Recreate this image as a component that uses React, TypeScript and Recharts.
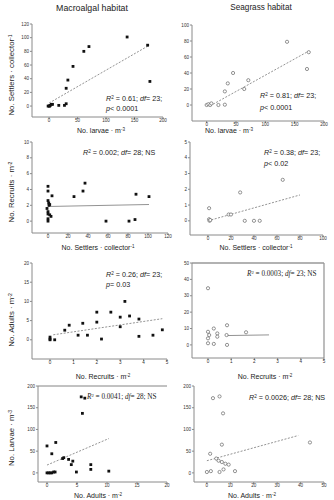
import React from 'react';
import { ScatterChart, Scatter, XAxis, YAxis, ReferenceLine } from 'recharts';

// ---- Data ----
// Panel 1: macroalgal, larvae vs settlers
const p1Larvae = [-1.7, 0, 1, 2, 4, 6, 17, 27, 30, 30, 33, 42, 61, 70, 137, 173, 177];
const p1Settlers = [0, 0, 0, 1, 2.5, 2.5, 1, 1, 3.4, 26, 38, 58, 80, 87, 101, 89, 36];
const p1Fit = [[0, 4.4], [176, 89]];
// Panel 2: seagrass, larvae vs settlers
const p2Larvae = [0, 3, 6, 8, 20, 31, 31, 36, 45, 64, 71, 137, 174, 171];
const p2Settlers = [0, 1, 0, 2, 0, 0.4, 17, 27, 40, 20, 31, 79, 66, 45];
const p2Fit = [[11, 1], [173, 67]];
// Panel 3: macroalgal, settlers vs recruits
const p3Settlers = [0, 0, 0, 0.7, 1, 1.7, -1, 0, 0, 0, 0, 1.7, 3, 4, 26, 35, 37, 58, 81, 87, 88, 101];
const p3Recruits = [4.4, 3.8, 2.6, 2.3, 2.0, 2.1, 1.6, 1.2, 0.9, 0.3, 0, 0.8, 0.6, 3.2, 3.1, 3.8, 4.8, 0, 0, 0.2, 3.4, 3.1];
const p3Fit = [[0, 1.85], [101, 2.1]];
// Panel 4: seagrass, settlers vs recruits
const p4Settlers = [1, 1, 1.4, 2, 18, 20, 28, 32, 40, 45, 65];
const p4Recruits = [0.8, 0.1, 0, 0.05, 0.4, 0.4, 1.8, 0, 0, 0, 2.6];
const p4Fit = [[0, 0], [80, 1.64]];
// Panel 5: macroalgal, recruits vs adults
const p5Recruits = [0, 0, 0, 0.2, 0.63, 0.82, 1.2, 1.4, 1.6, 2.0, 2.0, 2.2, 2.6, 3.0, 3.0, 3.2, 3.4, 3.8, 3.8, 4.4, 4.8];
const p5Adults = [0.2, 0, 0.7, 0, 2.5, 3.8, 1.2, 4.3, 1.2, 7.2, 4.6, 0.2, 7.2, 5.9, 3.4, 10.0, 6.2, 5.4, 0.9, 1.2, 2.6];
const p5Fit = [[0.14, 1.3], [4.8, 5.5]];
// Panel 6: seagrass, recruits vs adults
const p6Recruits = [0, 0, 0, 0, 0.05, 0.25, 0.4, 0.4, 0.25, 0.82, 0.8, 0.82, 1.64];
const p6Adults = [34.6, 8, 4, 1, 6, 10, 7, 5, 0.6, 12, 6, 0, 7.7];
const p6Fit = [[0.82, 5.7], [2.63, 6.1]];
// Panel 7: macroalgal, adults vs larvae
const p7Adults = [0, 0, 0.27, 0.54, 0.8, 1.1, 1.35, 0.8, 1.46, 2.6, 2.8, 3.6, 4.05, 4.3, 4.9, 5.7, 6.3, 5.9, 7.3, 7.3, 10.3];
const p7Larvae = [62, 0, 0, 0, 0, 2, 2, 44, 70, 33, 35, 31, 19, 27, 2, 175, 172, 137, 19, 8, 4];
const p7Fit = [[0, 18], [10.3, 79]];
// Panel 8: seagrass, adults vs larvae
const p8Adults = [2.6, 5.4, 6.9, 6.4, 1.4, 4, 5, 6.4, 7.9, 9.3, 7.1, 5.4, 1.7, 0, 12, 44];
const p8Larvae = [172, 176, 137, 65, 44, 33, 28, 25, 21, 19, 8, 2, 4, 2, 4, 70];
const p8Fit = [[0, 28], [39, 86]];

// Tick labels
const larvaeTicks = [0, 50, 100, 150, 200];
const settlersTicksMacro = [0, 20, 40, 60, 80, 100, 120];
const settlersTicksSea = [0, 20, 40, 60, 80, 100];
const settlersXTicksMacro = [0, 20, 40, 60, 80, 100, 120];
const settlersXTicksSea = [0, 20, 40, 60, 80, 100];
const recruitsTicksMacro = [0, 2, 4, 6, 8, 10];
const recruitsTicksSea = [0, 1, 2, 3, 4, 5];
const recruitsXTicks = [0, 1, 2, 3, 4, 5];
const adultsTicksMacro = [0, 5, 10, 15, 20];
const adultsTicksSea = [0, 10, 20, 30, 40, 50];
const adultsXTicksMacro = [0, 5, 10, 15, 20];
const adultsXTicksSea = [0, 10, 20, 30, 40, 50];
const larvaeYTicks = [0, 50, 100, 150, 200];

const SANS = "'Liberation Sans', Arial, sans-serif";
const SERIF = "'Liberation Serif', 'Times New Roman', serif";

const zip = (xs: number[], ys: number[]) => xs.map((x, i) => ({ x, y: ys[i] }));

type Panel = {
  id: string;
  data: { x: number; y: number }[];
  filled: boolean;
  fit: number[][];
  dashed: boolean;
  xDomain: [number, number];
  yDomain: [number, number];
  xTicks: number[];
  yTicks: number[];
  rect: { l: number; t: number; r: number; b: number };
  box?: boolean;
  topLine?: boolean;
};

const panels: Panel[] = [
  { id: 'p1', data: zip(p1Larvae, p1Settlers), filled: true, fit: p1Fit, dashed: true,
    xDomain: [-30, 200], yDomain: [-16, 120], xTicks: larvaeTicks, yTicks: settlersTicksMacro,
    rect: { l: 32, t: 24, r: 163, b: 117 } },
  { id: 'p2', data: zip(p2Larvae, p2Settlers), filled: false, fit: p2Fit, dashed: true,
    xDomain: [-25, 200], yDomain: [-20, 100], xTicks: larvaeTicks, yTicks: settlersTicksSea,
    rect: { l: 192, t: 25, r: 324, b: 121 } },
  { id: 'p3', data: zip(p3Settlers, p3Recruits), filled: true, fit: p3Fit, dashed: false,
    xDomain: [-16, 120], yDomain: [-1.5, 10], xTicks: settlersXTicksMacro, yTicks: recruitsTicksMacro,
    rect: { l: 32, t: 142, r: 168, b: 233 } },
  { id: 'p4', data: zip(p4Settlers, p4Recruits), filled: false, fit: p4Fit, dashed: true,
    xDomain: [-15.6, 100], yDomain: [-0.9, 5], xTicks: settlersXTicksSea, yTicks: recruitsTicksSea,
    rect: { l: 190, t: 142, r: 323, b: 235 } },
  { id: 'p5', data: zip(p5Recruits, p5Adults), filled: true, fit: p5Fit, dashed: true,
    xDomain: [-0.77, 5], yDomain: [-5, 20], xTicks: recruitsXTicks, yTicks: adultsTicksMacro,
    rect: { l: 32, t: 263, r: 167, b: 359 } },
  { id: 'p6', data: zip(p6Recruits, p6Adults), filled: false, fit: p6Fit, dashed: false,
    xDomain: [-0.69, 5], yDomain: [-8, 50], xTicks: recruitsXTicks, yTicks: adultsTicksSea,
    rect: { l: 192, t: 263, r: 324, b: 358 }, box: true },
  { id: 'p7', data: zip(p7Adults, p7Larvae), filled: true, fit: p7Fit, dashed: true,
    xDomain: [-1.5, 20], yDomain: [-21, 200], xTicks: adultsXTicksMacro, yTicks: larvaeYTicks,
    rect: { l: 38, t: 386, r: 167, b: 482 }, topLine: true },
  { id: 'p8', data: zip(p8Adults, p8Larvae), filled: false, fit: p8Fit, dashed: true,
    xDomain: [-5.5, 50], yDomain: [-21, 200], xTicks: adultsXTicksSea, yTicks: larvaeYTicks,
    rect: { l: 194, t: 386, r: 324, b: 482 } },
];

const YW = 24, MT = 4, MR = 8, XH = 12;
const AX = '#8a8a8a';

const FilledDot = (p: any) => (
  <rect x={p.cx - 1.4} y={p.cy - 1.4} width={2.8} height={2.8} fill="#111" />
);
const OpenDot = (p: any) => (
  <circle cx={p.cx} cy={p.cy} r={1.6} fill="#fff" stroke="#666" strokeWidth={0.7} />
);

function PanelChart({ p }: { p: Panel }) {
  const w = p.rect.r - p.rect.l;
  const h = p.rect.b - p.rect.t;
  const tick = { fontSize: 4.6, fill: '#333', fontFamily: SANS };
  return (
    <div style={{ position: 'absolute', left: p.rect.l - YW, top: p.rect.t - MT }}>
      <ScatterChart width={YW + w + MR} height={MT + h + XH} margin={{ top: MT, right: MR, bottom: 0, left: 0 }}>
        <XAxis type="number" dataKey="x" domain={p.xDomain} ticks={p.xTicks} interval={0} allowDataOverflow
          height={XH} tick={tick} tickSize={2} tickMargin={0} axisLine={{ stroke: AX }} tickLine={{ stroke: AX }} />
        <YAxis type="number" dataKey="y" domain={p.yDomain} ticks={p.yTicks} interval={0} allowDataOverflow
          width={YW} tick={tick} tickSize={2} tickMargin={1} axisLine={{ stroke: AX }} tickLine={{ stroke: AX }} />
        {p.box && <ReferenceLine y={p.yDomain[1]} stroke="#999" strokeWidth={1.3} ifOverflow="visible" />}
        {p.box && <ReferenceLine x={p.xDomain[1]} stroke="#999" strokeWidth={1.3} ifOverflow="visible" />}
        {p.topLine && <ReferenceLine y={p.yDomain[1]} stroke="#777" strokeWidth={0.9} ifOverflow="visible" />}
        <ReferenceLine
          segment={[{ x: p.fit[0][0], y: p.fit[0][1] }, { x: p.fit[1][0], y: p.fit[1][1] }]}
          stroke="#777" strokeWidth={0.8} strokeDasharray={p.dashed ? '2 1.5' : undefined} ifOverflow="visible" />
        <Scatter data={p.data} isAnimationActive={false} shape={p.filled ? FilledDot : OpenDot} />
      </ScatterChart>
    </div>
  );
}

const Sup = ({ children }: { children: React.ReactNode }) => (
  <span style={{ fontSize: '0.65em', position: 'relative', top: '-0.45em' }}>{children}</span>
);

function T({ x, y, size, children, family = SANS, center = false, italic = false }: any) {
  return (
    <div style={{ position: 'absolute', left: x, top: y - size * 0.6, fontSize: size, lineHeight: 1,
      whiteSpace: 'nowrap', fontFamily: family, color: '#222', fontStyle: italic ? 'italic' : 'normal',
      transform: center ? 'translateX(-50%)' : undefined }}>{children}</div>
  );
}

function VT({ x, y, size, children }: any) {
  return (
    <div style={{ position: 'absolute', left: x, top: y, fontSize: size, lineHeight: 1, whiteSpace: 'nowrap',
      fontFamily: SANS, color: '#222', transform: 'translate(-50%,-50%) rotate(-90deg)' }}>{children}</div>
  );
}

const R2 = ({ v }: { v: string }) => (<><i>R</i><Sup>2</Sup> = {v}; <i>df</i>= </>);

export default function App() {
  const ax = 7;
  const an = 7.2;
  return (
    <div style={{ position: 'absolute', left: 0, top: 0, width: 334, height: 500, background: '#fff', overflow: 'hidden' }}>
      {panels.map((p) => <PanelChart key={p.id} p={p} />)}

      <T x={92} y={9} size={8.8} center>Macroalgal habitat</T>
      <T x={261} y={9} size={8.2} center>Seagrass habitat</T>

      <VT x={12} y={75} size={ax + 0.8}>No. Settlers · collector<Sup>-1</Sup></VT>
      <VT x={12} y={192} size={ax + 0.8}>No. Recruits · m<Sup>-2</Sup></VT>
      <VT x={12} y={320} size={ax + 0.8}>No. Adults · m<Sup>-2</Sup></VT>
      <VT x={12} y={438} size={ax + 0.8}>No. Larvae · m<Sup>-3</Sup></VT>

      <T x={101} y={131} size={ax} center>No. larvae · m<Sup>-3</Sup></T>
      <T x={229} y={131} size={ax} center>No. larvae · m<Sup>-3</Sup></T>
      <T x={98} y={248} size={ax} center>No. Settlers · collector<Sup>-1</Sup></T>
      <T x={256} y={248} size={ax} center>No. Settlers · collector<Sup>-1</Sup></T>
      <T x={103} y={377} size={ax} center>No. Recruits · m<Sup>-2</Sup></T>
      <T x={265} y={377} size={ax} center>No. Recruits · m<Sup>-2</Sup></T>
      <T x={98} y={496} size={ax} center>No. Adults · m<Sup>-2</Sup></T>
      <T x={252} y={496} size={ax} center>No. Adults · m<Sup>-2</Sup></T>

      <T x={106} y={99} size={an}><R2 v="0.61" />23;</T>
      <T x={106} y={109} size={an}><i>p</i>&lt; 0.0001</T>
      <T x={260} y={96} size={an}><R2 v="0.81" />23;</T>
      <T x={260} y={108} size={an}><i>p</i>&lt; 0.0001</T>
      <T x={83} y={153} size={an}><R2 v="0.002" />28; NS</T>
      <T x={264} y={153} size={an}><R2 v="0.38" />23;</T>
      <T x={264} y={164} size={an}><i>p</i>&lt; 0.02</T>
      <T x={106} y={275} size={an}><R2 v="0.26" />23;</T>
      <T x={106} y={285} size={an}><i>p</i>= 0.03</T>
      <T x={247} y={275} size={an} family={SERIF}><R2 v="0.0003" />23; NS</T>
      <T x={87} y={398} size={an} family={SERIF}><R2 v="0.0041" />28; NS</T>
      <T x={249} y={398} size={an}><R2 v="0.0026" />28; NS</T>
    </div>
  );
}
